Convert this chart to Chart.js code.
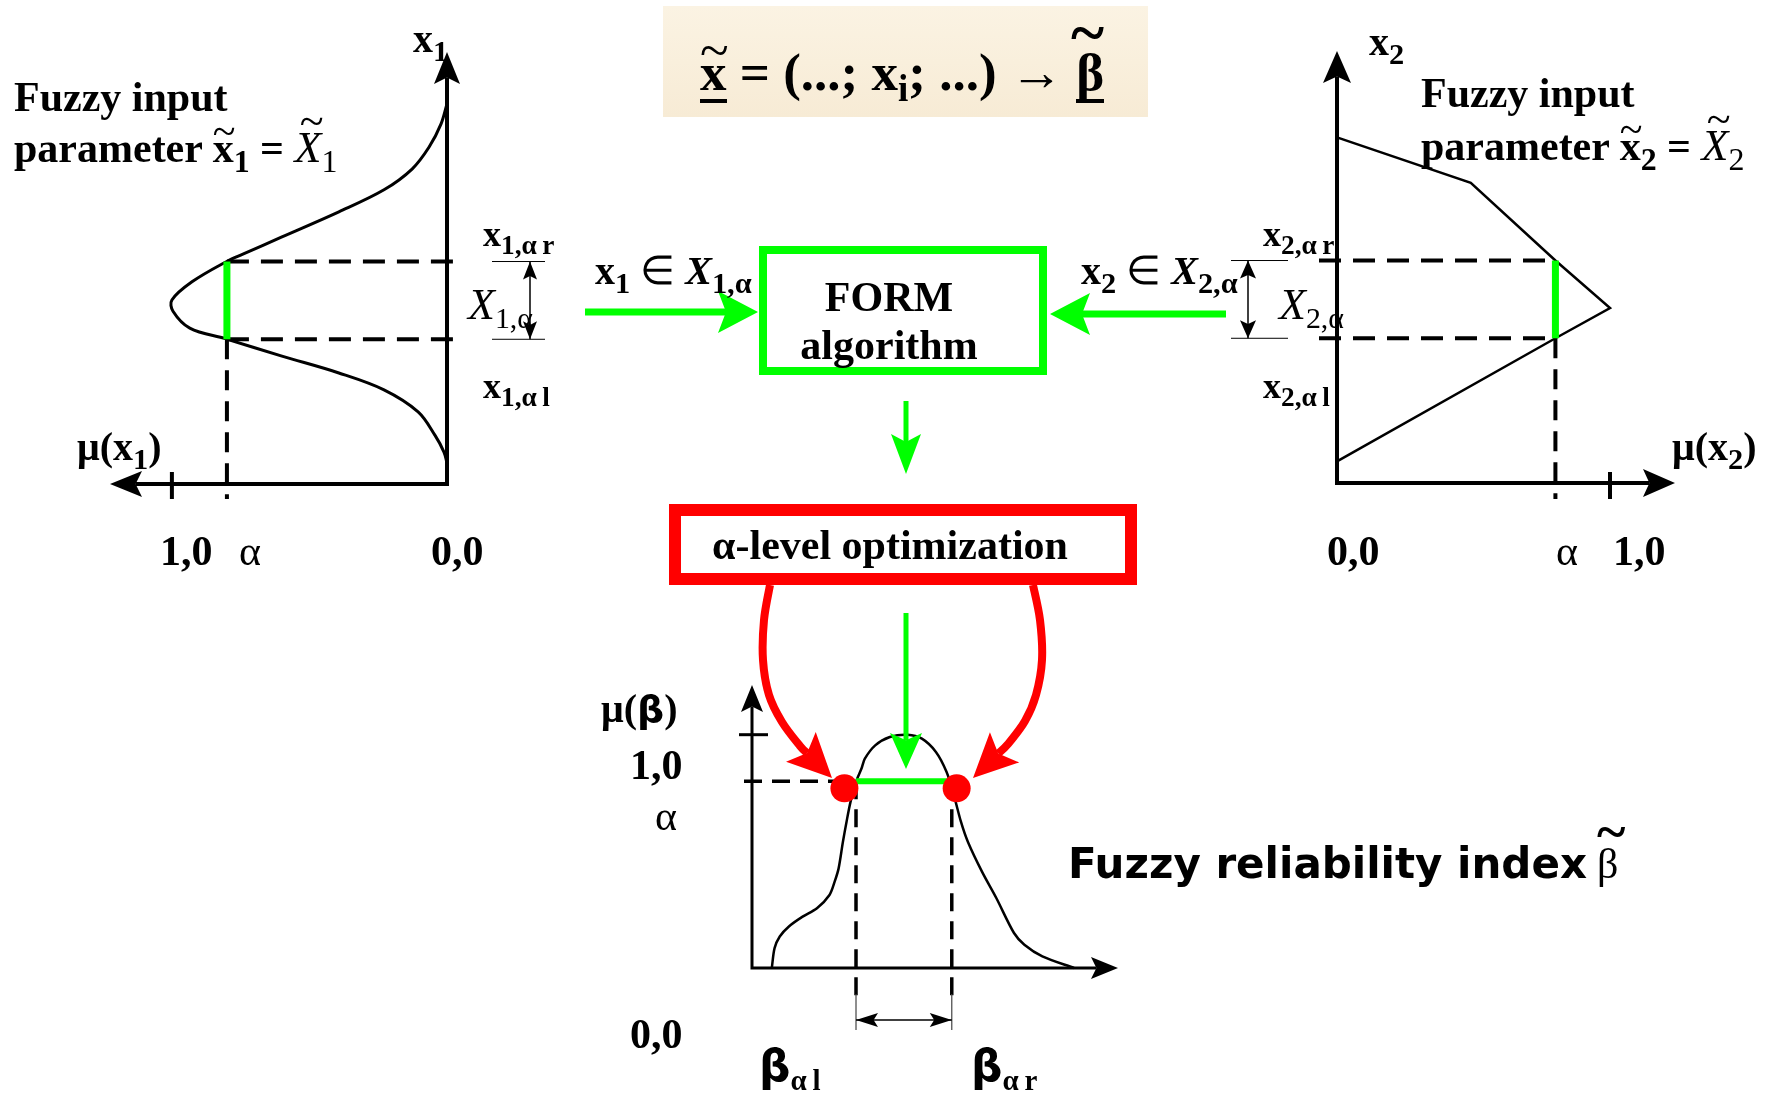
<!DOCTYPE html>
<html>
<head>
<meta charset="utf-8">
<title>Fuzzy reliability index</title>
<script src="https://cdn.jsdelivr.net/npm/chart.js"></script>
<style>
  html, body { margin: 0; padding: 0; background: #fff; }
  #page { position: relative; width: 1771px; height: 1096px; overflow: hidden;
          font-family: "Liberation Serif", "Times New Roman", serif; font-weight: bold; color: #000; }
  #page canvas { position: absolute; }
  #links { position: absolute; left: 0; top: 0; pointer-events: none; }
  .t { position: absolute; white-space: nowrap; line-height: 1; }
  .c { transform: translateX(-50%); }
  .sb { font-size: 0.76em; vertical-align: -0.3em; }
  .it { font-style: italic; font-weight: normal; }
  .n { font-weight: normal; }
  .sans { font-family: "DejaVu Sans", sans-serif; font-weight: bold; }
  .acc { position: relative; display: inline-block; }
  .acc .tl { position: absolute; left: 0; right: 0; text-align: center; font-weight: normal; font-style: normal; }
  .box { position: absolute; box-sizing: border-box; }
  .ul { border-bottom: 4px solid #000; }
</style>
</head>
<body>
<div id="page">
  <div class="box" style="left:663px;top:6px;width:485px;height:111px;background:linear-gradient(180deg,#fbf3e3,#f7ebd5);"></div>
  <div class="box" style="left:759px;top:246px;width:288px;height:129px;border:8px solid #00ff00;"></div>
  <div class="box" style="left:669px;top:504px;width:468px;height:81px;border:12px solid #ff0000;"></div>

  <canvas id="leftChart"></canvas>
  <canvas id="rightChart"></canvas>
  <canvas id="betaChart"></canvas>
  <svg id="links" width="1771" height="1096"></svg>

  <!-- formula -->
  <div class="t" style="left:700px;top:46px;font-size:53px;"><span class="acc ul">x<span class="tl" style="top:-0.42em">~</span></span> = (...; x<span class="sb" style="font-size:0.7em">i</span>; ...) <span class="n">&#8594;</span> <span class="acc ul">&#946;<span class="tl" style="top:-0.7em;font-size:1.2em;font-weight:bold;left:-0.08em;">~</span></span></div>

  <!-- left panel texts -->
  <div class="t" style="left:14px;top:76px;font-size:42px;">Fuzzy input</div>
  <div class="t" style="left:14px;top:126px;font-size:42px;">parameter <span class="acc">x<span class="tl" style="top:-0.4em">~</span></span><span class="sb">1</span> = <span class="acc it" style="font-size:1.05em">X<span class="tl" style="top:-0.6em;left:0.12em">~</span></span><span class="sb n">1</span></div>
  <div class="t" style="left:413px;top:19px;font-size:40px;">x<span class="sb">1</span></div>
  <div class="t" style="left:483px;top:216px;font-size:36px;">x<span class="sb">1,&#945;&#8201;r</span></div>
  <div class="t it" style="left:468px;top:283px;font-size:44px;">X<span class="sb" style="font-style:normal;font-size:0.68em">1,&#945;</span></div>
  <div class="t" style="left:483px;top:368px;font-size:36px;">x<span class="sb">1,&#945;&#8201;l</span></div>
  <div class="t" style="left:77px;top:427px;font-size:40px;">&#956;(x<span class="sb">1</span>)</div>
  <div class="t" style="left:160px;top:530px;font-size:42px;">1,0</div>
  <div class="t n" style="left:239px;top:530px;font-size:42px;">&#945;</div>
  <div class="t" style="left:431px;top:530px;font-size:42px;">0,0</div>

  <!-- right panel texts -->
  <div class="t" style="left:1421px;top:72px;font-size:42px;">Fuzzy input</div>
  <div class="t" style="left:1421px;top:124px;font-size:42px;">parameter <span class="acc">x<span class="tl" style="top:-0.4em">~</span></span><span class="sb">2</span> = <span class="acc it" style="font-size:1.05em">X<span class="tl" style="top:-0.6em;left:0.12em">~</span></span><span class="sb n">2</span></div>
  <div class="t" style="left:1369px;top:22px;font-size:40px;">x<span class="sb">2</span></div>
  <div class="t" style="left:1263px;top:216px;font-size:36px;">x<span class="sb">2,&#945;&#8201;r</span></div>
  <div class="t it" style="left:1279px;top:283px;font-size:44px;">X<span class="sb" style="font-style:normal;font-size:0.68em">2,&#945;</span></div>
  <div class="t" style="left:1263px;top:368px;font-size:36px;">x<span class="sb">2,&#945;&#8201;l</span></div>
  <div class="t" style="left:1672px;top:427px;font-size:40px;">&#956;(x<span class="sb">2</span>)</div>
  <div class="t" style="left:1327px;top:530px;font-size:42px;">0,0</div>
  <div class="t n" style="left:1556px;top:530px;font-size:42px;">&#945;</div>
  <div class="t" style="left:1613px;top:530px;font-size:42px;">1,0</div>

  <!-- flow texts -->
  <div class="t" style="left:595px;top:251px;font-size:40px;">x<span class="sb">1</span> <span class="n">&#8712;</span> <i>X</i><span class="sb">1,&#945;</span></div>
  <div class="t" style="left:1081px;top:251px;font-size:40px;">x<span class="sb">2</span> <span class="n">&#8712;</span> <i>X</i><span class="sb">2,&#945;</span></div>
  <div class="t c" style="left:889px;top:276px;font-size:42px;">FORM</div>
  <div class="t c" style="left:889px;top:324px;font-size:42px;">algorithm</div>
  <div class="t c" style="left:890px;top:524px;font-size:42px;">&#945;-level optimization</div>

  <!-- bottom panel texts -->
  <div class="t" style="left:601px;top:689px;font-size:40px;">&#956;(<span class="sans" style="font-size:0.95em">&#946;</span>)</div>
  <div class="t" style="left:630px;top:744px;font-size:42px;">1,0</div>
  <div class="t n" style="left:655px;top:795px;font-size:42px;">&#945;</div>
  <div class="t" style="left:630px;top:1013px;font-size:42px;">0,0</div>
  <div class="t" style="left:759px;top:1044px;font-size:44px;"><span class="sans">&#946;</span><span class="sb" style="font-size:0.66em">&#945;&#8201;l</span></div>
  <div class="t" style="left:971px;top:1044px;font-size:44px;"><span class="sans">&#946;</span><span class="sb" style="font-size:0.66em">&#945;&#8201;r</span></div>
  <div class="t sans" style="left:1068px;top:843px;font-size:42px;">Fuzzy reliability index<span class="acc" style="font-family:'Liberation Serif',serif;font-weight:normal;margin-left:10px;">&#946;<span class="tl" style="top:-0.7em;font-size:1.3em;font-weight:bold;">~</span></span></div>
</div>

<script>
// ---- data ----
// left panel: membership function of x1 (x1 vertical, mu drawn to the left)
const x1Values  = [8.8, 8.33, 7.8, 7.29, 6.81, 6.3, 5.72, 5.32, 5.14, 4.68, 4.26, 4.0, 3.61, 3.36, 2.96, 2.57, 2.18, 1.67, 1.13, 0.74, 0.49];
const mu1Values = [0, 0.022, 0.065, 0.127, 0.229, 0.393, 0.6, 0.742, 0.804, 0.927, 1.0, 0.996, 0.935, 0.804, 0.6, 0.393, 0.229, 0.105, 0.044, 0.011, 0];
const x1Cut = [3.35, 5.15];          // x1,al and x1,ar

// right panel: membership function of x2 (polygon)
const x2Values  = [8.0, 6.95, 5.15, 4.05, 3.35, 0.5];
const mu2Values = [0, 0.49, 0.8, 1.0, 0.8, 0];
const x2Cut = [3.35, 5.15];          // x2,al and x2,ar

// bottom panel: membership function of the reliability index beta
const betaValues   = [0.65, 0.74, 0.91, 1.21, 1.66, 2.13, 2.54, 2.71, 2.84, 2.98, 3.10, 3.23, 3.41, 3.59, 3.70, 4.04, 4.52, 5.10, 5.57, 6.03, 6.38, 6.62, 6.85, 7.08, 7.54, 8.01, 8.59, 8.93, 9.52, 10.56];
const muBetaValues = [0, 0.085, 0.135, 0.178, 0.22, 0.256, 0.313, 0.37, 0.427, 0.54, 0.627, 0.712, 0.798, 0.855, 0.897, 0.954, 0.99, 1.0, 0.983, 0.926, 0.84, 0.74, 0.627, 0.54, 0.413, 0.3, 0.15, 0.1, 0.05, 0];
const betaCut  = [3.41, 6.55];       // beta al and beta ar
const betaDots = [3.03, 6.71];       // red optimisation results
const betaDotMu = 0.77;

const alpha = 0.8;

const GREEN = '#00ff00';
const RED = '#ff0000';

// ---- drawing helpers ----
function seg(ctx, x0, y0, x1, y1, lw, dash) {
  ctx.save();
  ctx.lineWidth = lw;
  ctx.setLineDash(dash || []);
  ctx.beginPath();
  ctx.moveTo(x0, y0);
  ctx.lineTo(x1, y1);
  ctx.stroke();
  ctx.restore();
}

function head(ctx, fx, fy, tx, ty, len, hw) {
  const a = Math.atan2(ty - fy, tx - fx);
  ctx.save();
  ctx.translate(tx, ty);
  ctx.rotate(a);
  ctx.beginPath();
  ctx.moveTo(0, 0);
  ctx.lineTo(-len, -hw);
  ctx.lineTo(-len * 0.8, 0);
  ctx.lineTo(-len, hw);
  ctx.closePath();
  ctx.fill();
  ctx.restore();
}

// two axes meeting at the origin, each with an arrow head
function axes(ctx, ox, oy, xt, yt, lw, len, hw) {
  const dx = Math.sign(xt - ox);
  ctx.save();
  ctx.lineWidth = lw;
  ctx.lineJoin = 'miter';
  ctx.beginPath();
  ctx.moveTo(xt - dx * len * 0.8, oy);
  ctx.lineTo(ox, oy);
  ctx.lineTo(ox, yt + len * 0.8);
  ctx.stroke();
  head(ctx, ox, oy, xt, oy, len, hw);
  head(ctx, ox, oy, ox, yt, len, hw);
  ctx.restore();
}

function dimArrow(ctx, x0, y0, x1, y1, lw, len, hw) {
  seg(ctx, x0, y0, x1, y1, lw);
  head(ctx, x1, y1, x0, y0, len, hw);
  head(ctx, x0, y0, x1, y1, len, hw);
}

function placeCanvas(id, area, pad) {
  const cv = document.getElementById(id);
  const w = area.width + pad.left + pad.right;
  const h = area.height + pad.top + pad.bottom;
  cv.width = w;
  cv.height = h;
  cv.style.left = (area.left - pad.left) + 'px';
  cv.style.top = (area.top - pad.top) + 'px';
  cv.style.width = w + 'px';
  cv.style.height = h + 'px';
  return cv;
}

function baseOptions(pad, xs, ys) {
  return {
    responsive: false,
    animation: false,
    events: [],
    layout: { padding: pad },
    plugins: { legend: { display: false }, tooltip: { enabled: false } },
    scales: { x: Object.assign({ type: 'linear', display: false }, xs),
              y: Object.assign({ type: 'linear', display: false }, ys) }
  };
}

// ---- left panel ----
const leftPad = { left: 10, right: 120, top: 10, bottom: 30 };
const leftCanvas = placeCanvas('leftChart', { left: 110, top: 52, width: 337, height: 432 }, leftPad);

const leftMarks = {
  id: 'leftMarks',
  beforeDatasetsDraw(chart) {
    const { ctx, scales: { x, y } } = chart;
    const ox = x.getPixelForValue(0), oy = y.getPixelForValue(0);
    const ax = x.getPixelForValue(alpha);
    const lo = y.getPixelForValue(x1Cut[0]), hi = y.getPixelForValue(x1Cut[1]);
    ctx.save();
    ctx.strokeStyle = ctx.fillStyle = '#000';
    axes(ctx, ox, oy, x.getPixelForValue(x.max), y.getPixelForValue(y.max), 4, 32, 13);
    seg(ctx, x.getPixelForValue(1), oy - 12, x.getPixelForValue(1), oy + 15, 4);
    seg(ctx, ax, lo, ax, oy + 15, 4, [20, 11]);
    seg(ctx, ax, hi, ox + 15, hi, 4, [22, 12]);
    seg(ctx, ax, lo, ox + 15, lo, 4, [22, 12]);
    seg(ctx, ox + 45, hi, ox + 98, hi, 1);
    seg(ctx, ox + 45, lo, ox + 98, lo, 1);
    dimArrow(ctx, ox + 83, hi, ox + 83, lo, 1.5, 18, 7);
    ctx.restore();
  }
};

new Chart(leftCanvas, {
  type: 'scatter',
  data: {
    datasets: [
      { data: x1Cut.map(v => ({ x: alpha, y: v })), showLine: true, borderColor: GREEN,
        borderWidth: 7, pointRadius: 0, clip: false, order: 0 },
      { data: x1Values.map((v, i) => ({ x: mu1Values[i], y: v })), showLine: true, borderColor: '#000',
        borderWidth: 3, pointRadius: 0, tension: 0.35, clip: false, order: 1 }
    ]
  },
  options: baseOptions(leftPad, { reverse: true, min: 0, max: 1.225 }, { min: 0, max: 10 }),
  plugins: [leftMarks]
});

// ---- right panel ----
const rightPad = { left: 120, right: 12, top: 10, bottom: 30 };
const rightCanvas = placeCanvas('rightChart', { left: 1337, top: 51, width: 338, height: 432 }, rightPad);

const rightMarks = {
  id: 'rightMarks',
  beforeDatasetsDraw(chart) {
    const { ctx, scales: { x, y } } = chart;
    const ox = x.getPixelForValue(0), oy = y.getPixelForValue(0);
    const ax = x.getPixelForValue(alpha);
    const lo = y.getPixelForValue(x2Cut[0]), hi = y.getPixelForValue(x2Cut[1]);
    ctx.save();
    ctx.strokeStyle = ctx.fillStyle = '#000';
    axes(ctx, ox, oy, x.getPixelForValue(x.max), y.getPixelForValue(y.max), 4, 32, 14);
    seg(ctx, x.getPixelForValue(1), oy - 11, x.getPixelForValue(1), oy + 16, 4);
    seg(ctx, ax, lo, ax, oy + 16, 4, [20, 11]);
    seg(ctx, ox - 18, hi, ax, hi, 4, [22, 12]);
    seg(ctx, ox - 18, lo, ax, lo, 4, [22, 12]);
    seg(ctx, ox - 106, hi, ox - 49, hi, 1);
    seg(ctx, ox - 106, lo, ox - 49, lo, 1);
    dimArrow(ctx, ox - 89, hi, ox - 89, lo, 1.5, 18, 8);
    ctx.restore();
  }
};

new Chart(rightCanvas, {
  type: 'scatter',
  data: {
    datasets: [
      { data: x2Cut.map(v => ({ x: alpha, y: v })), showLine: true, borderColor: GREEN,
        borderWidth: 7, pointRadius: 0, clip: false, order: 0 },
      { data: x2Values.map((v, i) => ({ x: mu2Values[i], y: v })), showLine: true, borderColor: '#000',
        borderWidth: 2.5, pointRadius: 0, tension: 0, clip: false, order: 1 }
    ]
  },
  options: baseOptions(rightPad, { min: 0, max: 1.238 }, { min: 0, max: 10 }),
  plugins: [rightMarks]
});

// ---- bottom panel ----
const betaPad = { left: 20, right: 12, top: 12, bottom: 70 };
const betaCanvas = placeCanvas('betaChart', { left: 752, top: 683, width: 368, height: 285 }, betaPad);

const betaMarks = {
  id: 'betaMarks',
  beforeDatasetsDraw(chart) {
    const { ctx, scales: { x, y } } = chart;
    const ox = x.getPixelForValue(0), oy = y.getPixelForValue(0);
    const ay = y.getPixelForValue(alpha);
    const bl = x.getPixelForValue(betaCut[0]), br = x.getPixelForValue(betaCut[1]);
    ctx.save();
    ctx.strokeStyle = ctx.fillStyle = '#000';
    axes(ctx, ox, oy, x.getPixelForValue(x.max), y.getPixelForValue(y.max), 3, 27, 11);
    seg(ctx, ox - 13, y.getPixelForValue(1), ox + 16, y.getPixelForValue(1), 3);
    seg(ctx, ox - 8, ay, x.getPixelForValue(betaDots[0]), ay, 3.5, [18, 10]);
    seg(ctx, bl, ay, bl, oy + 29, 3.5, [18, 10]);
    seg(ctx, br, ay, br, oy + 29, 3.5, [18, 10]);
    ctx.strokeStyle = '#444';
    seg(ctx, bl, oy + 26, bl, oy + 62, 1.2);
    seg(ctx, br, oy + 26, br, oy + 62, 1.2);
    ctx.strokeStyle = '#000';
    dimArrow(ctx, bl, oy + 52, br, oy + 52, 1.5, 22, 7);
    ctx.restore();
  }
};

new Chart(betaCanvas, {
  type: 'scatter',
  data: {
    datasets: [
      { data: betaDots.map(v => ({ x: v, y: betaDotMu })), showLine: false, pointRadius: 14,
        pointBackgroundColor: RED, pointBorderColor: RED, pointBorderWidth: 0, clip: false, order: 0 },
      { data: betaCut.map(v => ({ x: v, y: alpha })), showLine: true, borderColor: GREEN,
        borderWidth: 6, pointRadius: 0, clip: false, order: 1 },
      { data: betaValues.map((v, i) => ({ x: v, y: muBetaValues[i] })), showLine: true, borderColor: '#000',
        borderWidth: 2.5, pointRadius: 0, tension: 0.3, clip: false, order: 2 }
    ]
  },
  options: baseOptions(betaPad, { min: 0, max: 12 }, { min: 0, max: 1.213 }),
  plugins: [betaMarks]
});

// ---- flow connectors (svg) ----
const svg = document.getElementById('links');
const NS = 'http://www.w3.org/2000/svg';

function svgAdd(tag, attrs) {
  const el = document.createElementNS(NS, tag);
  for (const k in attrs) el.setAttribute(k, attrs[k]);
  svg.appendChild(el);
  return el;
}

// smooth path through points, ending in a filled arrow head at the last point
function connector(pts, color, width, len, hw) {
  const tip = pts[pts.length - 1];
  const prev = pts[pts.length - 2];
  const a = Math.atan2(tip[1] - prev[1], tip[0] - prev[0]);
  const ca = Math.cos(a), sa = Math.sin(a);
  const notch = [tip[0] - len * 0.8 * ca, tip[1] - len * 0.8 * sa];
  const line = pts.slice(0, -1).concat([notch]);
  let d = 'M' + line[0][0] + ',' + line[0][1];
  for (let i = 0; i < line.length - 1; i++) {
    const p0 = line[Math.max(i - 1, 0)], p1 = line[i], p2 = line[i + 1], p3 = line[Math.min(i + 2, line.length - 1)];
    const c1 = [p1[0] + (p2[0] - p0[0]) / 6, p1[1] + (p2[1] - p0[1]) / 6];
    const c2 = [p2[0] - (p3[0] - p1[0]) / 6, p2[1] - (p3[1] - p1[1]) / 6];
    d += ' C' + c1.join(',') + ' ' + c2.join(',') + ' ' + p2.join(',');
  }
  svgAdd('path', { d: d, fill: 'none', stroke: color, 'stroke-width': width, 'stroke-linecap': 'butt' });
  const bx = tip[0] - len * ca, by = tip[1] - len * sa;
  const w1 = [bx - hw * sa, by + hw * ca], w2 = [bx + hw * sa, by - hw * ca];
  svgAdd('polygon', { points: [tip, w1, notch, w2].map(p => p.join(',')).join(' '), fill: color });
}

connector([[585, 312], [758, 312]], GREEN, 7, 40, 21);
connector([[1226, 314], [1050, 314]], GREEN, 7, 40, 21);
connector([[906, 401], [906, 474]], GREEN, 5, 40, 15);
connector([[906, 613], [906, 769]], GREEN, 5, 36, 16);
connector([[770, 585], [764, 620], [763, 660], [769, 695], [782, 722], [800, 746], [832, 778]], RED, 8, 44, 21);
connector([[1033, 585], [1040, 620], [1042, 660], [1036, 695], [1025, 721], [1008, 744], [973, 778]], RED, 8, 44, 21);
</script>
</body>
</html>
